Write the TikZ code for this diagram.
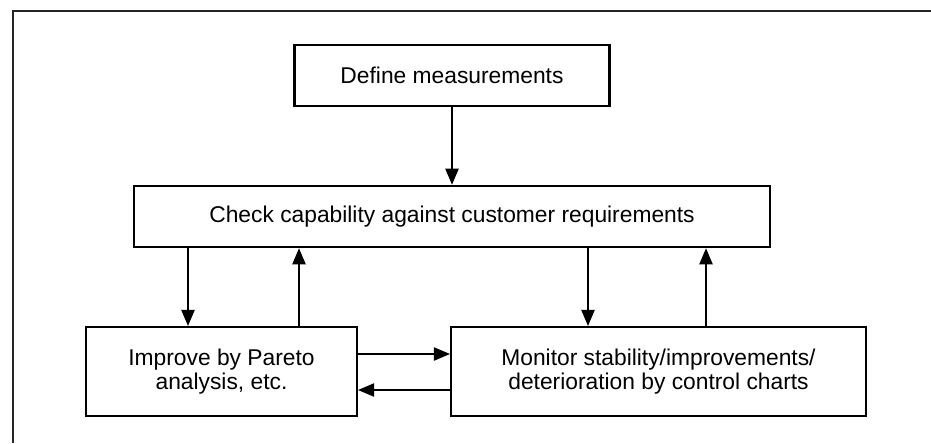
\documentclass[tikz,border=0pt]{standalone}
\usepackage{fontspec}
\setmainfont{Liberation Sans}
\usetikzlibrary{arrows.meta}

\begin{document}
\begin{tikzpicture}[
  x=0.75pt, y=-0.75pt,
  box/.style={draw, line width=1.6pt, align=center, inner sep=0pt,
    font=\fontsize{17.1}{17.6}\selectfont},
  arr/.style={line width=0.8pt, -{Triangle[length=12pt,width=10pt]}},
  frameline/.style={line width=1.5pt, draw=black!85}
]
\useasboundingbox (0,0) rectangle (931,443);

% open frame: top and left edges only
\draw[frameline] (12.5,443) -- (12.5,10.5) -- (931,10.5);

% process steps
\node[box, minimum width=236.25pt, minimum height=45.75pt] (def) at (452,75.5)
  {Define measurements};
\node[box, minimum width=477pt, minimum height=46.1pt] (chk) at (452,216.5)
  {Check capability against customer requirements};
\node[box, minimum width=203.25pt, minimum height=66.75pt] (imp) at (221.5,371.5)
  {Improve by Pareto\\analysis, etc.};
\node[box, minimum width=311.25pt, minimum height=66.75pt] (mon) at (658.5,371.5)
  {Monitor stability/improvements/\\deterioration by control charts};

% columns and rows for the connectors
\coordinate (c1) at (188,0);
\coordinate (c2) at (299,0);
\coordinate (c3) at (588,0);
\coordinate (c4) at (706,0);
\coordinate (r1) at (0,354);
\coordinate (r2) at (0,390);

\draw[arr] (def.south) -- (chk.north);
\draw[arr] (c1 |- chk.south) -- (c1 |- imp.north);
\draw[arr] (c2 |- imp.north) -- (c2 |- chk.south);
\draw[arr] (c3 |- chk.south) -- (c3 |- mon.north);
\draw[arr] (c4 |- mon.north) -- (c4 |- chk.south);
\draw[arr] (imp.east |- r1) -- (mon.west |- r1);
\draw[arr] (mon.west |- r2) -- (imp.east |- r2);
\end{tikzpicture}
\end{document}
